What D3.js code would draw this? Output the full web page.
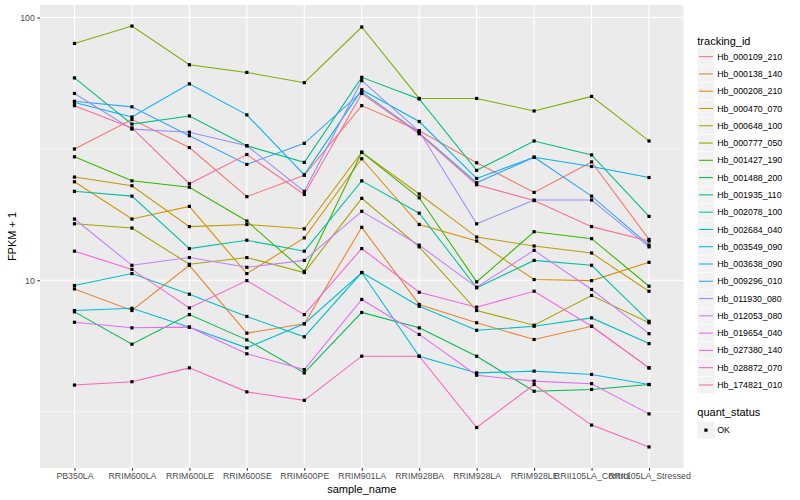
<!DOCTYPE html>
<html>
<head>
<meta charset="utf-8">
<script src="https://cdn.jsdelivr.net/npm/d3@7"></script>
<style>
  body { margin: 0; background: #fff; }
  text { font-family: "Liberation Sans", Arial, sans-serif; }
</style>
</head>
<body>
<div id="chart"></div>
<script>
// samples on the x axis
const samples = ["PB350LA", "RRIM600LA", "RRIM600LE", "RRIM600SE", "RRIM600PE", "RRIM901LA",
  "RRIM928BA", "RRIM928LA", "RRIM928LE", "RRII105LA_Control", "RRII105LA_Stressed"];

const trackingIds = ["Hb_000109_210", "Hb_000138_140", "Hb_000208_210", "Hb_000470_070", "Hb_000648_100",
  "Hb_000777_050", "Hb_001427_190", "Hb_001488_200", "Hb_001935_110", "Hb_002078_100", "Hb_002684_040",
  "Hb_003549_090", "Hb_003638_090", "Hb_009296_010", "Hb_011930_080", "Hb_012053_080", "Hb_019654_040",
  "Hb_027380_140", "Hb_028872_070", "Hb_174821_010"];

// ggplot hue palette, 20 levels
const palette = ["#F8766D", "#EA8331", "#D89000", "#C09B00", "#A3A500", "#7CAE00", "#39B600", "#00BB4E",
  "#00BF7D", "#00C1A3", "#00BFC4", "#00BAE0", "#00B0F6", "#35A2FF", "#9590FF", "#C77CFF", "#E76BF3",
  "#FA62DB", "#FF62BC", "#FF6C91"];

// FPKM + 1, one array per tracking_id (same order as samples)
const fpkm = [
  [31.6, 40.9, 32.0, 20.8, 25.1, 46.2, 37.1, 28.0, 21.6, 28.2, 14.3],   // Hb_000109_210
  [9.27, 7.67, 11.4, 6.29, 6.83, 15.9, 8.09, 6.89, 5.95, 6.68, 4.64],   // Hb_000138_140
  [23.7, 17.1, 19.1, 10.6, 14.5, 29.0, 16.3, 14.1, 10.06, 9.97, 11.7],  // Hb_000208_210
  [24.7, 22.9, 16.0, 16.3, 15.7, 30.7, 21.3, 14.6, 13.5, 12.7, 9.08],   // Hb_000470_070
  [16.4, 15.8, 11.5, 12.2, 10.7, 20.5, 13.4, 7.67, 6.74, 8.75, 6.89],   // Hb_000648_100
  [79.7, 92.8, 66.1, 61.8, 56.5, 92.0, 49.2, 49.2, 44.1, 50.1, 33.9],   // Hb_000777_050
  [29.5, 23.9, 22.6, 16.8, 10.8, 30.7, 20.6, 9.86, 15.3, 14.4, 9.49],   // Hb_001427_190
  [7.58, 5.71, 7.40, 5.93, 4.44, 7.54, 6.59, 5.14, 3.78, 3.84, 4.01],   // Hb_001488_200
  [58.9, 39.3, 42.2, 32.5, 28.1, 59.2, 49.0, 26.2, 33.9, 30.0, 17.5],   // Hb_001935_110
  [21.8, 20.9, 13.2, 14.2, 12.9, 23.9, 18.0, 9.36, 11.9, 11.4, 6.98],   // Hb_002078_100
  [9.55, 10.6, 8.85, 7.28, 6.09, 10.7, 7.96, 6.45, 6.68, 7.19, 5.74],   // Hb_002684_040
  [7.67, 7.82, 6.63, 5.53, 6.83, 10.7, 5.14, 4.44, 4.51, 4.38, 4.01],   // Hb_003549_090
  [47.5, 41.8, 55.9, 42.6, 25.2, 53.1, 40.2, 24.4, 29.4, 27.1, 24.6],   // Hb_003638_090
  [48.0, 45.7, 35.5, 27.6, 33.2, 52.1, 36.4, 23.5, 29.4, 20.9, 13.6],   // Hb_009296_010
  [51.4, 37.6, 36.6, 32.5, 21.8, 57.5, 36.9, 16.4, 20.2, 20.2, 13.4],   // Hb_011930_080
  [17.1, 11.4, 12.2, 11.2, 11.9, 18.3, 13.6, 9.41, 13.0, 9.22, 6.26],   // Hb_012053_080
  [6.92, 6.59, 6.63, 5.25, 4.57, 8.45, 6.22, 4.35, 4.13, 4.04, 3.10],   // Hb_019654_040
  [12.9, 11.0, 7.85, 9.97, 7.40, 13.2, 9.0, 7.9, 9.08, 6.68, 4.64],     // Hb_027380_140
  [3.99, 4.11, 4.64, 3.76, 3.49, 5.14, 5.14, 2.75, 4.01, 2.81, 2.32],   // Hb_028872_070
  [46.2, 38.0, 23.3, 30.1, 21.2, 51.4, 36.1, 23.1, 20.1, 16.0, 14.1]    // Hb_174821_010
];

const yTicks = [10, 100];
const yMinor = [Math.sqrt(10), Math.sqrt(1000)];

const width = 800, height = 500;
const panel = { left: 40, right: 683.5, top: 5, bottom: 468 };

const svg = d3.select("#chart").append("svg")
  .attr("width", width)
  .attr("height", height)
  .style("display", "block");

svg.append("rect").attr("width", width).attr("height", height).attr("fill", "#fff");

// x: discrete, ggplot expansion 0.6 units
const x = d3.scalePoint()
  .domain(samples)
  .range([panel.left, panel.right])
  .padding(0.6);

// y: log10 with 5% expansion of the data range
const allVals = fpkm.flat();
const lo = Math.log10(d3.min(allVals)), hi = Math.log10(d3.max(allVals));
const pad = (hi - lo) * 0.05;
const y = d3.scaleLog()
  .domain([Math.pow(10, lo - pad), Math.pow(10, hi + pad)])
  .range([panel.bottom, panel.top]);

// panel background
svg.append("rect")
  .attr("x", panel.left).attr("y", panel.top)
  .attr("width", panel.right - panel.left)
  .attr("height", panel.bottom - panel.top)
  .attr("fill", "#EBEBEB");

// grid
const grid = svg.append("g");
grid.selectAll(".minor").data(yMinor).join("line")
  .attr("x1", panel.left).attr("x2", panel.right)
  .attr("y1", d => y(d)).attr("y2", d => y(d))
  .attr("stroke", "#fff").attr("stroke-width", 0.53);
grid.selectAll(".majy").data(yTicks).join("line")
  .attr("x1", panel.left).attr("x2", panel.right)
  .attr("y1", d => y(d)).attr("y2", d => y(d))
  .attr("stroke", "#fff").attr("stroke-width", 1.07);
grid.selectAll(".majx").data(samples).join("line")
  .attr("x1", d => x(d)).attr("x2", d => x(d))
  .attr("y1", panel.top).attr("y2", panel.bottom)
  .attr("stroke", "#fff").attr("stroke-width", 1.07);

// lines
const line = d3.line()
  .x((d, i) => x(samples[i]))
  .y(d => y(d));

svg.append("g")
  .selectAll("path")
  .data(fpkm)
  .join("path")
  .attr("d", line)
  .attr("fill", "none")
  .attr("stroke", (d, i) => palette[i])
  .attr("stroke-width", 1.07);

// points (quant_status = OK)
const pts = fpkm.flatMap(s => s.map((v, i) => ({ sample: samples[i], v })));
const ps = 3.2;
svg.append("g")
  .selectAll("rect")
  .data(pts)
  .join("rect")
  .attr("x", d => x(d.sample) - ps / 2)
  .attr("y", d => y(d.v) - ps / 2)
  .attr("width", ps).attr("height", ps)
  .attr("fill", "#000");

// axes
const xAxis = svg.append("g")
  .attr("transform", `translate(0,${panel.bottom})`)
  .call(d3.axisBottom(x).tickSize(2.7).tickPadding(2.5));
const yAxis = svg.append("g")
  .attr("transform", `translate(${panel.left},0)`)
  .call(d3.axisLeft(y).tickValues(yTicks).tickFormat(d3.format("d")).tickSize(2.7).tickPadding(2.5));

[xAxis, yAxis].forEach(g => {
  g.select(".domain").remove();
  g.selectAll(".tick line").attr("stroke", "#333").attr("stroke-width", 1.07);
  g.selectAll(".tick text")
    .attr("fill", "#4D4D4D")
    .style("font-size", "8.8px")
    .style("font-family", "'Liberation Sans', Arial, sans-serif");
});

// axis titles
svg.append("text")
  .attr("x", (panel.left + panel.right) / 2)
  .attr("y", 493)
  .attr("text-anchor", "middle")
  .style("font-size", "11px")
  .attr("fill", "#000")
  .text("sample_name");

svg.append("text")
  .attr("transform", `translate(16,${(panel.top + panel.bottom) / 2}) rotate(-90)`)
  .attr("text-anchor", "middle")
  .style("font-size", "11px")
  .attr("fill", "#000")
  .text("FPKM + 1");

// legend: tracking_id
const lx = 697.3, key = 17.28;
const leg = svg.append("g");
leg.append("text")
  .attr("x", lx).attr("y", 44.5)
  .style("font-size", "11px")
  .text("tracking_id");

const items = leg.selectAll("g.item")
  .data(trackingIds)
  .join("g")
  .attr("transform", (d, i) => `translate(${lx},${48 + i * key})`);
items.append("rect")
  .attr("width", key).attr("height", key)
  .attr("fill", "#F2F2F2").attr("stroke", "#fff").attr("stroke-width", 0.5);
items.append("line")
  .attr("x1", 1.7).attr("x2", key - 1.7)
  .attr("y1", key / 2).attr("y2", key / 2)
  .attr("stroke", (d, i) => palette[i])
  .attr("stroke-width", 1.07);
items.append("text")
  .attr("x", key + 2.6).attr("y", key / 2 + 3.1)
  .style("font-size", "8.8px")
  .attr("fill", "#000")
  .text(d => d);

// legend: quant_status
leg.append("text")
  .attr("x", lx).attr("y", 416)
  .style("font-size", "11px")
  .text("quant_status");
const ok = leg.append("g").attr("transform", `translate(${lx},421.5)`);
ok.append("rect")
  .attr("width", key).attr("height", key)
  .attr("fill", "#F2F2F2");
ok.append("rect")
  .attr("x", key / 2 - ps / 2).attr("y", key / 2 - ps / 2)
  .attr("width", ps).attr("height", ps)
  .attr("fill", "#000");
ok.append("text")
  .attr("x", key + 2.6).attr("y", key / 2 + 3.1)
  .style("font-size", "8.8px")
  .text("OK");
</script>
</body>
</html>
